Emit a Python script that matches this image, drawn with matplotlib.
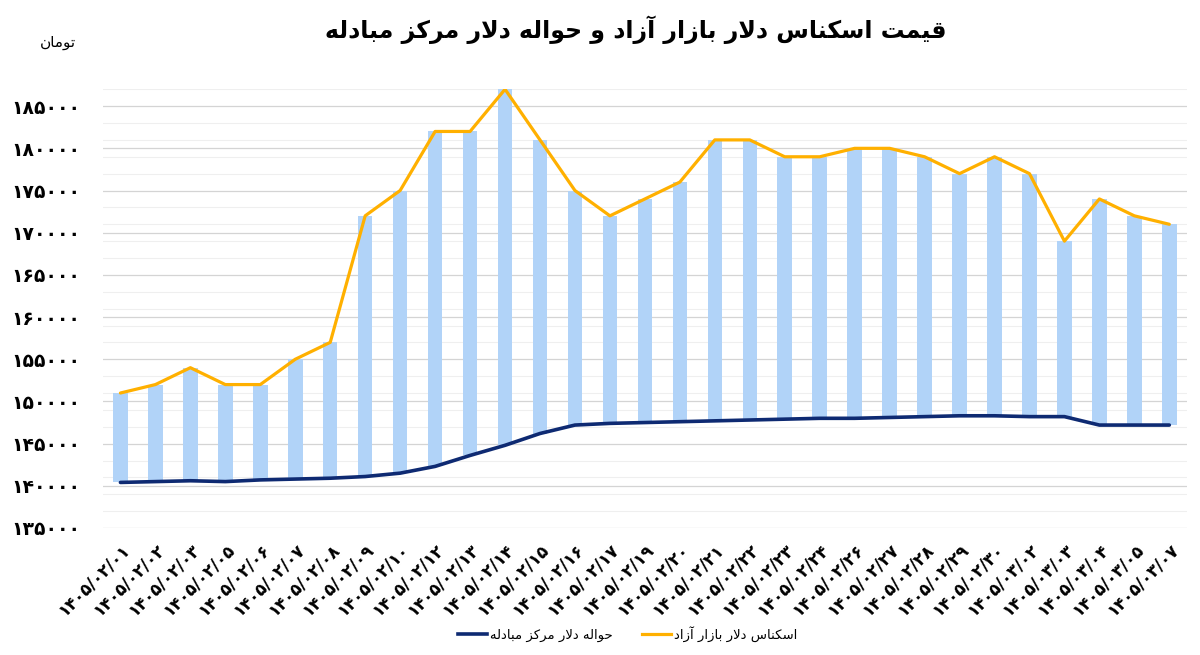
import matplotlib
matplotlib.use('Agg')
import matplotlib.pyplot as plt
from matplotlib.lines import Line2D
from matplotlib.ticker import FixedLocator, FuncFormatter
import numpy as np

# ---------------- data ----------------
dates = ['۱۴۰۵/۰۲/۰۱', '۱۴۰۵/۰۲/۰۲', '۱۴۰۵/۰۲/۰۳', '۱۴۰۵/۰۲/۰۵', '۱۴۰۵/۰۲/۰۶',
         '۱۴۰۵/۰۲/۰۷', '۱۴۰۵/۰۲/۰۸', '۱۴۰۵/۰۲/۰۹', '۱۴۰۵/۰۲/۱۰', '۱۴۰۵/۰۲/۱۲',
         '۱۴۰۵/۰۲/۱۳', '۱۴۰۵/۰۲/۱۴', '۱۴۰۵/۰۲/۱۵', '۱۴۰۵/۰۲/۱۶', '۱۴۰۵/۰۲/۱۷',
         '۱۴۰۵/۰۲/۱۹', '۱۴۰۵/۰۲/۲۰', '۱۴۰۵/۰۲/۲۱', '۱۴۰۵/۰۲/۲۲', '۱۴۰۵/۰۲/۲۳',
         '۱۴۰۵/۰۲/۲۴', '۱۴۰۵/۰۲/۲۶', '۱۴۰۵/۰۲/۲۷', '۱۴۰۵/۰۲/۲۸', '۱۴۰۵/۰۲/۲۹',
         '۱۴۰۵/۰۲/۳۰', '۱۴۰۵/۰۳/۰۲', '۱۴۰۵/۰۳/۰۳', '۱۴۰۵/۰۳/۰۴', '۱۴۰۵/۰۳/۰۵',
         '۱۴۰۵/۰۳/۰۷']

eskenas = [151000, 152000, 154000, 152000, 152000, 155000, 157000, 172000, 175000,
           182000, 182000, 187000, 181000, 175000, 172000, 174000, 176000, 181000,
           181000, 179000, 179000, 180000, 180000, 179000, 177000, 179000, 177000,
           169000, 174000, 172000, 171000]

havaleh = [140400, 140500, 140600, 140500, 140700, 140800, 140900, 141100, 141500,
           142300, 143600, 144800, 146200, 147200, 147400, 147500, 147600, 147700,
           147800, 147900, 148000, 148000, 148100, 148200, 148300, 148300, 148200,
           148200, 147200, 147200, 147200]

title_text = 'قیمت اسکناس دلار بازار آزاد و حواله دلار مرکز مبادله'
unit_text = 'تومان'
label_havaleh = 'حواله دلار مرکز مبادله'
label_eskenas = 'اسکناس دلار بازار آزاد'

y_ticks = [135000, 140000, 145000, 150000, 155000, 160000, 165000, 170000, 175000, 180000, 185000]

# ---------------- minimal Arabic/Persian shaping ----------------
FORMS = {  # isolated, final, initial, medial
    'ا': ('\uFE8D', '\uFE8E', None, None),
    'آ': ('\uFE81', '\uFE82', None, None),
    'ب': ('\uFE8F', '\uFE90', '\uFE91', '\uFE92'),
    'ت': ('\uFE95', '\uFE96', '\uFE97', '\uFE98'),
    'ح': ('\uFEA1', '\uFEA2', '\uFEA3', '\uFEA4'),
    'د': ('\uFEA9', '\uFEAA', None, None),
    'ر': ('\uFEAD', '\uFEAE', None, None),
    'ز': ('\uFEAF', '\uFEB0', None, None),
    'س': ('\uFEB1', '\uFEB2', '\uFEB3', '\uFEB4'),
    'ق': ('\uFED5', '\uFED6', '\uFED7', '\uFED8'),
    'ک': ('\uFB8E', '\uFB8F', '\uFB90', '\uFB91'),
    'ل': ('\uFEDD', '\uFEDE', '\uFEDF', '\uFEE0'),
    'م': ('\uFEE1', '\uFEE2', '\uFEE3', '\uFEE4'),
    'ن': ('\uFEE5', '\uFEE6', '\uFEE7', '\uFEE8'),
    'ه': ('\uFEE9', '\uFEEA', '\uFEEB', '\uFEEC'),
    'و': ('\uFEED', '\uFEEE', None, None),
    'ی': ('\uFBFC', '\uFBFD', '\uFBFE', '\uFBFF'),
    'لا': ('\uFEFB', '\uFEFC', None, None),
    'لآ': ('\uFEF5', '\uFEF6', None, None),
}


def shape(text):
    units = []
    i = 0
    while i < len(text):
        if text[i] == 'ل' and i + 1 < len(text) and text[i + 1] in 'اآ':
            units.append(text[i:i + 2])
            i += 2
        else:
            units.append(text[i])
            i += 1
    out = []
    for k, u in enumerate(units):
        if u not in FORMS:
            out.append(u)
            continue
        iso, fin, ini, med = FORMS[u]
        prev = units[k - 1] if k > 0 else None
        nxt = units[k + 1] if k + 1 < len(units) else None
        jp = prev in FORMS and FORMS[prev][2] is not None
        jn = ini is not None and nxt in FORMS
        if jp and jn:
            out.append(med)
        elif jp:
            out.append(fin)
        elif jn:
            out.append(ini)
        else:
            out.append(iso)
    return ''.join(out)[::-1]


FA = str.maketrans('0123456789', '۰۱۲۳۴۵۶۷۸۹')

# ---------------- plot ----------------
plt.rcParams['font.family'] = ['DejaVu Sans']
fig = plt.figure(figsize=(12, 6.55), dpi=100)
ax = fig.add_axes([0.0858, 0.1939, 0.9032, 0.6698])

x = np.arange(len(dates))
esk = np.array(eskenas)
hav = np.array(havaleh)

ax.bar(x, esk - hav, bottom=hav, width=0.415, color='#B1D3F8', zorder=2)
ax.plot(x, esk, color='#FFB000', lw=2.3, solid_capstyle='round', solid_joinstyle='round', zorder=3)
ax.plot(x, hav, color='#0E2A72', lw=2.6, solid_capstyle='round', solid_joinstyle='round', zorder=3)

ax.set_xlim(-0.5, len(dates) - 0.5)
ax.set_ylim(135000, 187000)
ax.yaxis.set_major_locator(FixedLocator(y_ticks))
ax.yaxis.set_minor_locator(FixedLocator(np.arange(137000, 187001, 2000)))
ax.yaxis.set_major_formatter(FuncFormatter(lambda v, p: str(int(v)).translate(FA)))
ax.grid(axis='y', which='major', color='#D4D4D4', lw=0.9, zorder=0)
ax.grid(axis='y', which='minor', color='#EFEFEF', lw=0.8, zorder=0)
ax.set_axisbelow(True)

for s in ax.spines.values():
    s.set_visible(False)
ax.tick_params(axis='both', which='both', length=0)
ax.tick_params(axis='y', pad=16.5)
ax.set_xticks(x)
ax.set_xticklabels(dates, rotation=45, ha='right', va='top', rotation_mode='anchor',
                   fontsize=12, fontweight='bold')
for lab in ax.get_yticklabels():
    lab.set_fontsize(13.5)
    lab.set_fontweight('bold')
ax.tick_params(axis='x', pad=9)

fig.text(0.53, 0.955, shape(title_text), ha='center', va='center', fontsize=17, fontweight='bold')
fig.text(0.048, 0.935, shape(unit_text), ha='center', va='center', fontsize=11)

handles = [Line2D([0], [0], color='#0E2A72', lw=2.6),
           Line2D([0], [0], color='#FFB000', lw=2.3)]
fig.legend(handles, [shape(label_havaleh), shape(label_eskenas)], loc='center',
           bbox_to_anchor=(0.523, 0.032), ncol=2, frameon=False, fontsize=9.5,
           handlelength=2.2, handletextpad=0.2, columnspacing=2.2)

fig.savefig('out.png', dpi=100)
